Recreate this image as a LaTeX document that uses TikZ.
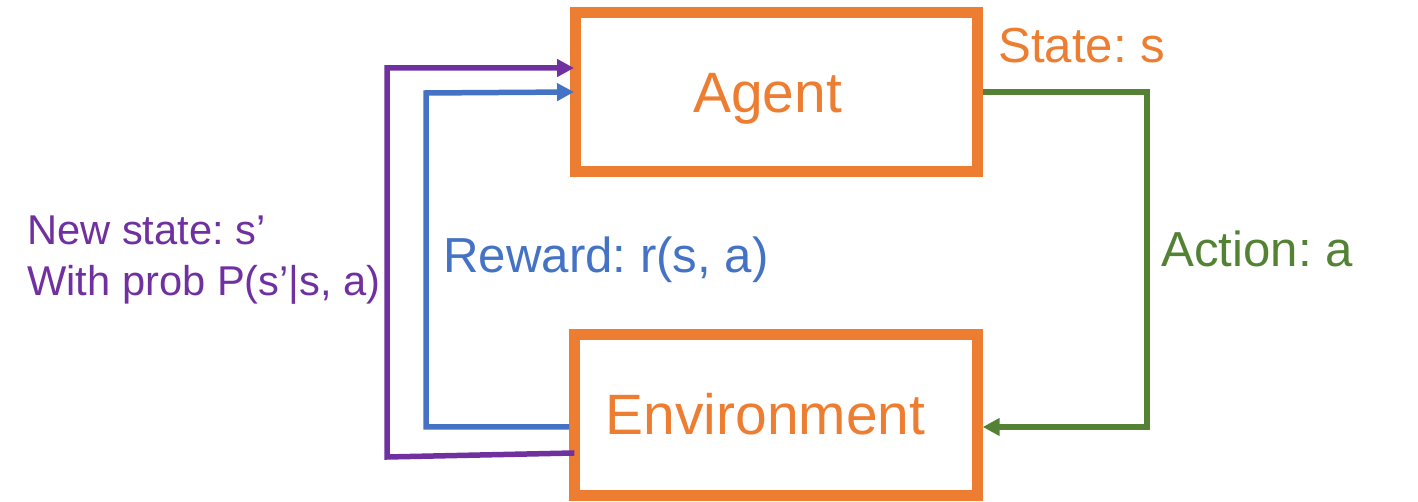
\documentclass[tikz,border=0pt]{standalone}
\usepackage{fontspec}
\setmainfont{Liberation Sans}
\usetikzlibrary{arrows.meta}
\definecolor{agentorange}{HTML}{ED7D31}
\definecolor{rewardblue}{HTML}{4472C4}
\definecolor{actiongreen}{HTML}{548235}
\definecolor{statepurple}{HTML}{7030A0}
\frenchspacing
\tikzset{
  box/.style={draw=agentorange, line width=0.22cm, minimum width=8.05cm, inner sep=0pt},
  bigtext/.style={text=agentorange, inner sep=0pt, anchor=base, font=\fontsize{32.4pt}{36pt}\selectfont},
  midtext/.style={inner sep=0pt, anchor=base west, font=\fontsize{28pt}{32pt}\selectfont},
  smalltext/.style={inner sep=0pt, anchor=base west, font=\fontsize{23.7pt}{28pt}\selectfont},
  flow/.style={line width=0.11cm, -{Triangle[length=0.34cm,width=0.34cm]}}
}
\begin{document}
\begin{tikzpicture}[x=0.02cm, y=-0.02cm]
  \useasboundingbox (0,0) rectangle (1418,502);
  \node[box, minimum height=3.18cm] (agent) at (776.75,92) {};
  \node[box, minimum height=3.22cm] (env) at (776,415) {};
  \node[bigtext] (agentlbl) at (767.5,113) {Agent};
  \node[bigtext] (envlbl) at (765.5,435) {Environment};
  \node[midtext, text=agentorange] (statelbl) at (998,63) {State: s};
  \node[midtext, text=actiongreen] (actionlbl) at (1161,267) {Action: a};
  \node[midtext, text=rewardblue] (rewardlbl) at (443,273) {Reward: r(s, a)};
  \node[smalltext, text=statepurple] (newstate) at (27,245) {New state: s’};
  \node[smalltext, text=statepurple] (withprob) at (27,296) {With prob P(s’|s, a)};
  \begin{scope}[flow]
    \draw[actiongreen] (agent.east) -- (1147,92) |- ([yshift=-0.24cm]env.east);
    \draw[rewardblue] ([yshift=-0.24cm]env.west) -| (426,93) -- ([xshift=0.08cm]agent.west);
    \draw[statepurple] ([yshift=-0.76cm,xshift=0.1cm]env.west) -- (387,457) |- ([yshift=0.48cm,xshift=0.08cm]agent.west);
  \end{scope}
\end{tikzpicture}
\end{document}
